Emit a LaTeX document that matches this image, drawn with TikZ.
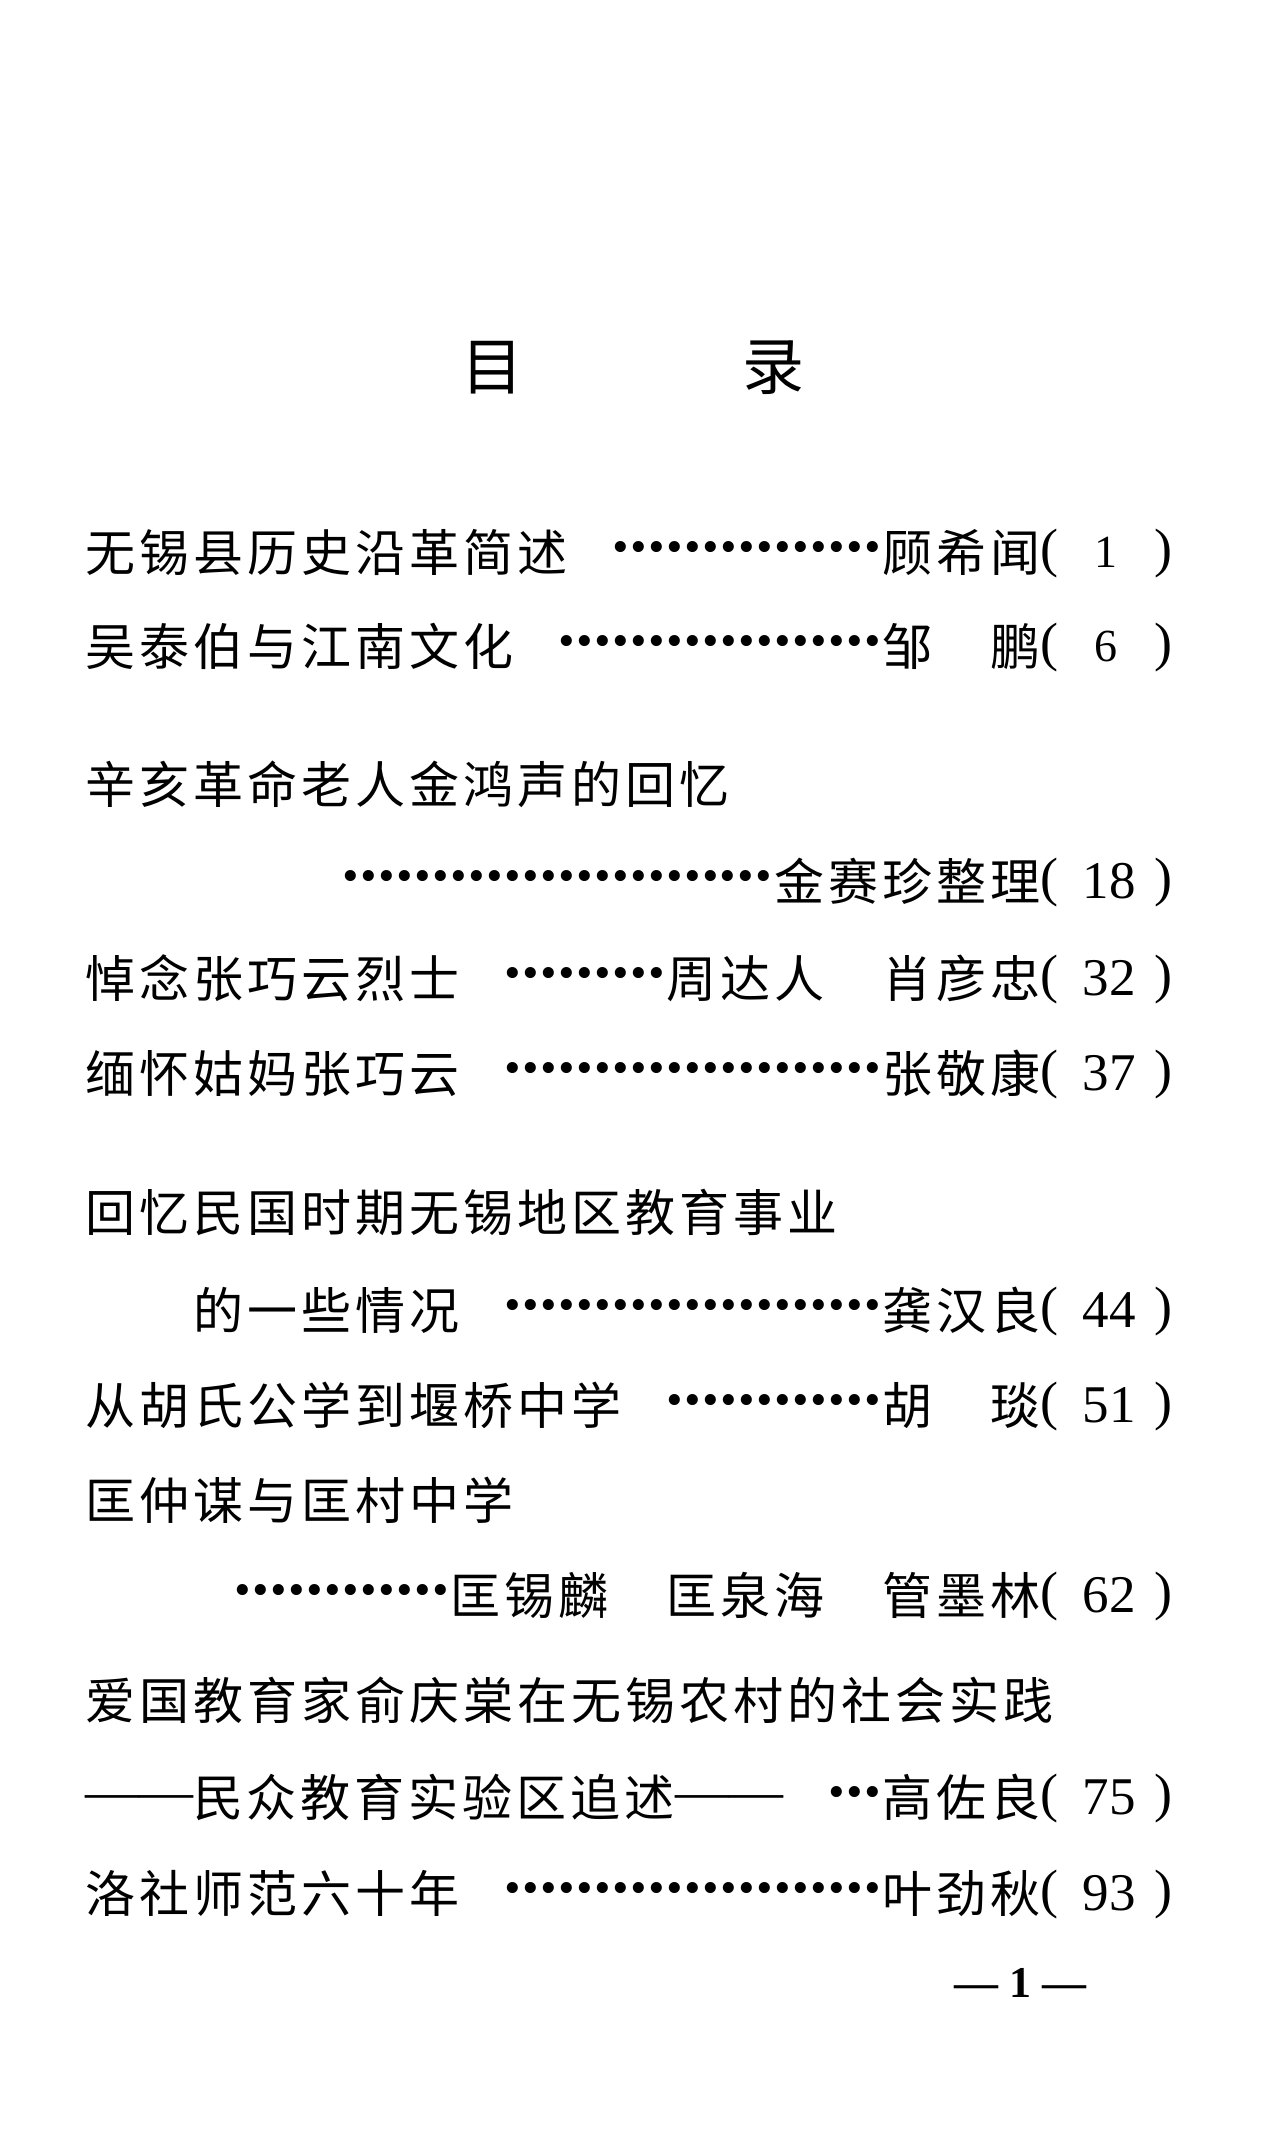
\documentclass[tikz,border=0pt]{standalone}
\usepackage{fontspec}
\setmainfont{Liberation Serif}
\newfontfamily\cjk[LetterSpace=8]{Noto Sans CJK SC}
\newfontfamily\cjkt{Noto Sans CJK SC}
\newcommand\dt{\makebox[18pt]{\rmfamily\bfseries\fontsize{68}{68}\selectfont\raisebox{2pt}{·}}}
\newcommand\dd{\dt\dt\dt}
\newcommand\dsh{{\rmfamily\fontsize{54}{54}\selectfont\raisebox{7pt}{——}}}
\begin{document}
\begin{tikzpicture}[x=1pt,y=-1pt]
\tikzset{
  body/.style={inner sep=0pt, outer sep=0pt, font=\cjk\fontsize{50}{50}\selectfont, text height=44pt, text depth=6pt},
  ttl/.style={body, anchor=west},
  auth/.style={body, anchor=east},
  leader/.style={body, anchor=east},
  lpar/.style={inner sep=0pt, outer sep=0pt, font=\fontsize{54}{54}\selectfont, text height=37.5pt, text depth=9.5pt, anchor=west},
  rpar/.style={lpar, anchor=east},
  numa/.style={inner sep=0pt, outer sep=0pt, font=\fontsize{46}{46}\selectfont, text height=30.4pt, text depth=0pt, anchor=center},
  numb/.style={inner sep=0pt, outer sep=0pt, font=\fontsize{53}{53}\selectfont, text height=35pt, text depth=0pt, anchor=center},
  head/.style={inner sep=0pt, outer sep=0pt, font=\cjkt\fontsize{62}{62}\selectfont, text height=54.5pt, text depth=7.5pt, anchor=center},
  pagenum/.style={inner sep=0pt, outer sep=0pt, font=\bfseries\fontsize{44}{44}\selectfont, anchor=base}
}
\fill[white] (0,0) rectangle (1274,2155);
\useasboundingbox (0,0) rectangle (1274,2155);

% title
\node[head] (h1) at (492,366) {目};
\node[head] (h2) at (773,366) {录};

% 1
\node[ttl] (t1) at (85,552) {无锡县历史沿革简述};
\node[auth] (a1) at (1040,552) {顾希闻};
\node[leader] (d1) at (a1.west) {\dd\dd\dd\dd\dd};
\node[lpar] (lp1) at (1040,552) {(};
\node[numa] (n1) at (1106,552) {1};
\node[rpar] (rp1) at (1172,552) {)};

% 2
\node[ttl] (t2) at (85,646) {吴泰伯与江南文化};
\node[auth] (a2) at (1040,646) {邹　鹏};
\node[leader] (d2) at (a2.west) {\dd\dd\dd\dd\dd\dd};
\node[lpar] (lp2) at (1040,646) {(};
\node[numa] (n2) at (1106,646) {6};
\node[rpar] (rp2) at (1172,646) {)};

% 3-4
\node[ttl] (t3) at (85,784) {辛亥革命老人金鸿声的回忆};
\node[auth] (a4) at (1040,881) {金赛珍整理};
\node[leader] (d4) at (a4.west) {\dd\dd\dd\dd\dd\dd\dd\dd};
\node[lpar] (lp4) at (1040,881) {(};
\node[numb] (n4) at (1109,881) {18};
\node[rpar] (rp4) at (1172,881) {)};

% 5
\node[ttl] (t5) at (85,978) {悼念张巧云烈士};
\node[auth] (a5) at (1040,978) {周达人　肖彦忠};
\node[leader] (d5) at (a5.west) {\dd\dd\dd};
\node[lpar] (lp5) at (1040,978) {(};
\node[numb] (n5) at (1109,978) {32};
\node[rpar] (rp5) at (1172,978) {)};

% 6
\node[ttl] (t6) at (85,1073) {缅怀姑妈张巧云};
\node[auth] (a6) at (1040,1073) {张敬康};
\node[leader] (d6) at (a6.west) {\dd\dd\dd\dd\dd\dd\dd};
\node[lpar] (lp6) at (1040,1073) {(};
\node[numb] (n6) at (1109,1073) {37};
\node[rpar] (rp6) at (1172,1073) {)};

% 7-8
\node[ttl] (t7) at (85,1212) {回忆民国时期无锡地区教育事业};
\node[ttl] (t8) at (193,1310) {的一些情况};
\node[auth] (a8) at (1040,1310) {龚汉良};
\node[leader] (d8) at (a8.west) {\dd\dd\dd\dd\dd\dd\dd};
\node[lpar] (lp8) at (1040,1310) {(};
\node[numb] (n8) at (1109,1310) {44};
\node[rpar] (rp8) at (1172,1310) {)};

% 9
\node[ttl] (t9) at (85,1405) {从胡氏公学到堰桥中学};
\node[auth] (a9) at (1040,1405) {胡　琰};
\node[leader] (d9) at (a9.west) {\dd\dd\dd\dd};
\node[lpar] (lp9) at (1040,1405) {(};
\node[numb] (n9) at (1109,1405) {51};
\node[rpar] (rp9) at (1172,1405) {)};

% 10-11
\node[ttl] (t10) at (85,1500) {匡仲谋与匡村中学};
\node[auth] (a11) at (1040,1595) {匡锡麟　匡泉海　管墨林};
\node[leader] (d11) at (a11.west) {\dd\dd\dd\dd};
\node[lpar] (lp11) at (1040,1595) {(};
\node[numb] (n11) at (1109,1595) {62};
\node[rpar] (rp11) at (1172,1595) {)};

% 12-13
\node[ttl] (t12) at (85,1700) {爱国教育家俞庆棠在无锡农村的社会实践};
\node[ttl] (t13) at (85,1797) {\dsh 民众教育实验区追述\dsh};
\node[auth] (a13) at (1040,1797) {高佐良};
\node[leader] (d13) at (a13.west) {\dd};
\node[lpar] (lp13) at (1040,1797) {(};
\node[numb] (n13) at (1109,1797) {75};
\node[rpar] (rp13) at (1172,1797) {)};

% 14
\node[ttl] (t14) at (85,1893) {洛社师范六十年};
\node[auth] (a14) at (1040,1893) {叶劲秋};
\node[leader] (d14) at (a14.west) {\dd\dd\dd\dd\dd\dd\dd};
\node[lpar] (lp14) at (1040,1893) {(};
\node[numb] (n14) at (1109,1893) {93};
\node[rpar] (rp14) at (1172,1893) {)};

% page number
\node[pagenum] (pg) at (1020,1997) {— 1 —};
\end{tikzpicture}
\end{document}
